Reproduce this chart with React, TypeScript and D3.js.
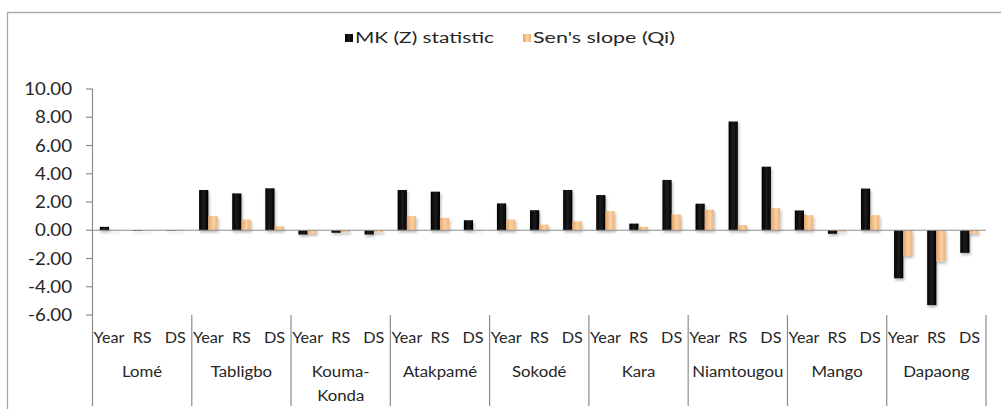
import * as d3 from 'd3'

const stations = ['Lomé', 'Tabligbo', 'Kouma-Konda', 'Atakpamé', 'Sokodé', 'Kara', 'Niamtougou', 'Mango', 'Dapaong']
const periods = ['Year', 'RS', 'DS']
const seriesNames = ['MK (Z) statistic', "Sen's slope (Qi)"]

// one value per station x period, in station order
const mkValues = [0.24, -0.05, -0.04, 2.85, 2.61, 2.97, -0.3, -0.18, -0.3, 2.85, 2.73, 0.71, 1.9, 1.42, 2.85, 2.49, 0.47, 3.56, 1.88, 7.7, 4.5, 1.4, -0.25, 2.95, -3.4, -5.3, -1.6]
const senValues = [0.02, 0.02, 0.03, 1.0, 0.76, 0.28, -0.25, -0.15, -0.15, 1.0, 0.88, 0.02, 0.76, 0.4, 0.64, 1.35, 0.24, 1.12, 1.45, 0.36, 1.57, 1.07, -0.1, 1.07, -1.8, -2.2, -0.25]
const yTicks = [-6, -4, -2, 0, 2, 4, 6, 8, 10]

const W = 1001
const H = 409
const font = 'Lato, "Open Sans", sans-serif'
const axisColor = '#8c8c8c'
const textColor = '#262626'

// the source picture's text is a little wider than Lato, so stretch it horizontally
function Label({ x, y, size, anchor = 'middle', sx = 1.12, children }: {
  x: number; y: number; size: number; anchor?: string; sx?: number; children: string
}) {
  return (
    <text transform={`translate(${x},${y}) scale(${sx},1)`} textAnchor={anchor} fontSize={size} fill={textColor}>
      {children}
    </text>
  )
}

export default function App() {
  const plotLeft = 92.5
  const plotRight = 986
  const yTop = 89
  const yBottom = 315

  const x0 = d3.scaleBand<string>().domain(stations).range([plotLeft, plotRight]).padding(0)
  const x1 = d3.scaleBand<string>().domain(periods).range([0, x0.bandwidth()]).padding(0)
  const x2 = d3.scaleBand<string>().domain(['mk', 'sen']).range([0, x1.bandwidth()]).paddingInner(0).paddingOuter(0.8)
  const y = d3.scaleLinear().domain([-6, 10]).range([yBottom, yTop])

  const rows = stations.flatMap((s, i) =>
    periods.map((p, j) => ({ station: s, period: p, mk: mkValues[i * 3 + j], sen: senValues[i * 3 + j] })),
  )

  const barRect = (v: number) => ({ y: Math.min(y(v), y(0)), h: Math.abs(y(v) - y(0)) })

  return (
    <svg width={W} height={H} style={{ position: 'absolute', left: 0, top: 0, background: '#fff' }} fontFamily={font}>
      <defs>
        <linearGradient id="gBlack" x1="0" x2="1" y1="0" y2="0">
          <stop offset="0" stopColor="#000" />
          <stop offset="0.5" stopColor="#1c1c1c" />
          <stop offset="1" stopColor="#000" />
        </linearGradient>
        <linearGradient id="gOrange" x1="0" x2="1" y1="0" y2="0">
          <stop offset="0" stopColor="#e7a464" />
          <stop offset="0.55" stopColor="#f9d2a6" />
          <stop offset="1" stopColor="#eeb278" />
        </linearGradient>
        <filter id="shadow" x="-50%" y="-50%" width="200%" height="200%">
          <feDropShadow dx="1" dy="2" stdDeviation="1.6" floodColor="#000" floodOpacity="0.3" />
        </filter>
      </defs>

      <rect x={7.5} y={12.5} width={W + 20} height={H + 20} fill="none" stroke="#a6a6a6" strokeWidth={1.3} />

      {/* legend */}
      <rect x={345} y={34} width={8} height={8} fill="url(#gBlack)" />
      <text x={355} y={43} fontSize={15.5} fill={textColor} textLength={139} lengthAdjust="spacingAndGlyphs">
        {seriesNames[0]}
      </text>
      <rect x={523} y={34} width={8} height={8} fill="url(#gOrange)" />
      <text x={533} y={43} fontSize={15.5} fill={textColor} textLength={142} lengthAdjust="spacingAndGlyphs">
        {seriesNames[1]}
      </text>

      {/* y axis */}
      <line x1={plotLeft} x2={plotLeft} y1={yTop} y2={406} stroke={axisColor} strokeWidth={1.2} />
      {yTicks.map((t) => (
        <g key={t}>
          <line x1={86} x2={plotLeft} y1={y(t)} y2={y(t)} stroke={axisColor} strokeWidth={1.2} />
          <Label x={72} y={y(t) + 6} size={17} anchor="end" sx={1.1}>
            {t.toFixed(2)}
          </Label>
        </g>
      ))}

      {/* bars */}
      <g filter="url(#shadow)">
        {rows.map((r) => {
          const cx = (x0(r.station) ?? 0) + (x1(r.period) ?? 0)
          const a = barRect(r.mk)
          const b = barRect(r.sen)
          return (
            <g key={r.station + r.period}>
              <rect x={cx + (x2('mk') ?? 0)} y={a.y} width={x2.bandwidth()} height={Math.max(a.h, 0.5)} fill="url(#gBlack)" />
              <rect x={cx + (x2('sen') ?? 0)} y={b.y} width={x2.bandwidth()} height={Math.max(b.h, 0.5)} fill="url(#gOrange)" />
            </g>
          )
        })}
      </g>

      {/* zero line */}
      <line x1={plotLeft} x2={plotRight} y1={y(0)} y2={y(0)} stroke={axisColor} strokeWidth={1.2} />

      {/* category axis */}
      {stations.map((s) => {
        const sx = x0(s) ?? 0
        const lines = s === 'Kouma-Konda' ? ['Kouma-', 'Konda'] : [s]
        return (
          <g key={s}>
            <line x1={sx + x0.bandwidth()} x2={sx + x0.bandwidth()} y1={yBottom} y2={406} stroke={axisColor} strokeWidth={1.2} />
            {periods.map((p) => (
              <Label key={p} x={sx + (x1(p) ?? 0) + x1.bandwidth() / 2} y={343} size={14.5}>
                {p}
              </Label>
            ))}
            {lines.map((l, k) => (
              <Label key={l} x={sx + x0.bandwidth() / 2} y={377 + k * 24} size={15}>
                {l}
              </Label>
            ))}
          </g>
        )
      })}
    </svg>
  )
}
